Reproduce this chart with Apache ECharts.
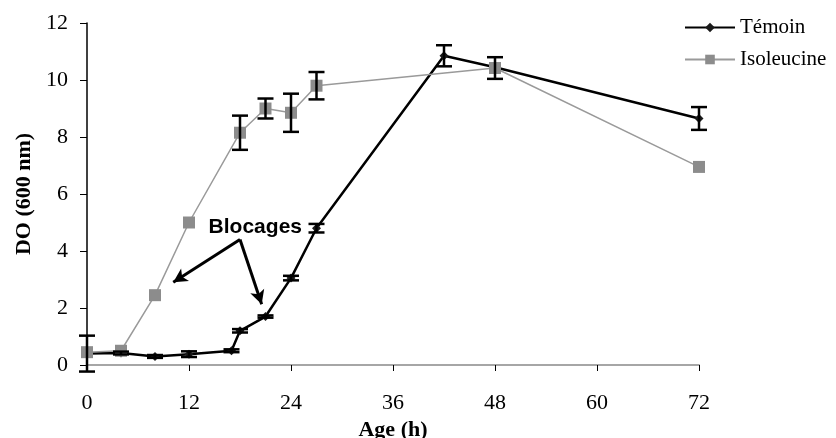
<!DOCTYPE html>
<html>
<head>
<meta charset="utf-8">
<script src="https://cdn.jsdelivr.net/npm/echarts@6/dist/echarts.min.js"></script>
<style>
  html, body { margin: 0; padding: 0; background: #fff; }
  #chart { width: 836px; height: 438px; }
</style>
</head>
<body>
<div id="chart"></div>
<script>
// Optical density at 600 nm over culture age, control vs isoleucine
const hoursTemoin = [0, 4, 8, 12, 17, 18, 21, 24, 27, 42, 48, 72];
const doTemoin    = [0.40, 0.42, 0.30, 0.38, 0.50, 1.20, 1.70, 3.05, 4.80, 10.85, 10.45, 8.65];
const errTemoin   = [0.63, 0.05, 0.05, 0.10, 0.05, 0.06, 0.04, 0.08, 0.15, 0.37, 0, 0.40];

const hoursIso = [0, 4, 8, 12, 18, 21, 24, 27, 48, 72];
const doIso    = [0.45, 0.50, 2.45, 5.00, 8.15, 9.00, 8.85, 9.80, 10.42, 6.95];
const errIso   = [0, 0, 0, 0, 0.60, 0.35, 0.67, 0.48, 0.38, 0];

const xTicks = [0, 12, 24, 36, 48, 60, 72];
const yTicks = [0, 2, 4, 6, 8, 10, 12];

const serif = '"Liberation Serif", "Times New Roman", serif';

function pairs(xs, ys) { return xs.map((x, i) => [x, ys[i]]); }

function errorBars(xs, ys, es) {
  const data = [];
  xs.forEach((x, i) => { if (es[i] > 0) data.push([x, ys[i] - es[i], ys[i] + es[i]]); });
  return {
    type: 'custom',
    silent: true,
    clip: false,
    z: 5,
    data: data,
    encode: { x: 0, y: [1, 2] },
    renderItem: function (params, api) {
      const lo = api.coord([api.value(0), api.value(1)]);
      const hi = api.coord([api.value(0), api.value(2)]);
      const w = 8;
      const style = { stroke: '#000', lineWidth: 2.5 };
      return {
        type: 'group',
        children: [
          { type: 'line', shape: { x1: lo[0], y1: lo[1], x2: hi[0], y2: hi[1] }, style: style },
          { type: 'line', shape: { x1: lo[0] - w, y1: lo[1], x2: lo[0] + w, y2: lo[1] }, style: style },
          { type: 'line', shape: { x1: hi[0] - w, y1: hi[1], x2: hi[0] + w, y2: hi[1] }, style: style }
        ]
      };
    }
  };
}

const chart = echarts.init(document.getElementById('chart'), null, { renderer: 'canvas' });

chart.setOption({
  animation: false,
  backgroundColor: '#fff',
  grid: { left: 87, right: 137, top: 23, bottom: 73, containLabel: false, outerBoundsMode: 'none' },
  legend: {
    orient: 'vertical',
    left: 679,
    top: 12,
    itemWidth: 50,
    itemHeight: 12,
    itemGap: 11,
    data: ['Témoin', 'Isoleucine'],
    textStyle: { fontFamily: serif, fontSize: 21, color: '#000' }
  },
  xAxis: {
    type: 'value',
    min: xTicks[0],
    max: xTicks[xTicks.length - 1],
    interval: 12,
    name: 'Age (h)',
    nameLocation: 'middle',
    nameGap: 54,
    nameTextStyle: { fontFamily: serif, fontSize: 22, fontWeight: 'bold', color: '#000' },
    axisLine: { show: true, lineStyle: { color: '#a6a6a6', width: 2 } },
    axisTick: { show: true, inside: false, length: 6, lineStyle: { color: '#000', width: 1 } },
    axisLabel: { margin: 27, fontFamily: serif, fontSize: 22, color: '#000' },
    splitLine: { show: false }
  },
  yAxis: {
    type: 'value',
    min: yTicks[0],
    max: yTicks[yTicks.length - 1],
    interval: 2,
    name: 'DO (600 nm)',
    nameLocation: 'middle',
    nameGap: 52,
    nameTextStyle: { fontFamily: serif, fontSize: 22, fontWeight: 'bold', color: '#000' },
    axisLine: { show: true, lineStyle: { color: '#000', width: 1.5 } },
    axisTick: { show: true, inside: false, length: 7, lineStyle: { color: '#000', width: 1 } },
    axisLabel: { margin: 19, fontFamily: serif, fontSize: 22, color: '#000' },
    splitLine: { show: false }
  },
  series: [
    {
      name: 'Témoin',
      type: 'line',
      data: pairs(hoursTemoin, doTemoin),
      symbol: 'diamond',
      symbolSize: 9,
      showAllSymbol: true,
      itemStyle: { color: '#1a1a1a' },
      lineStyle: { color: '#000', width: 2.5 },
      z: 2,
      markLine: {
        silent: true,
        symbol: ['none', 'arrow'],
        symbolSize: [11, 14],
        label: { show: false },
        lineStyle: { color: '#000', width: 3, type: 'solid' },
        data: [
          [{ coord: [18, 4.4] }, { coord: [10.15, 2.9] }],
          [{ coord: [18, 4.4] }, { coord: [20.55, 2.13] }]
        ]
      },
      markPoint: {
        silent: true,
        data: [{
          coord: [19.8, 4.82],
          symbol: 'circle',
          symbolSize: 0,
          label: {
            show: true,
            position: 'inside',
            formatter: 'Blocages',
            fontFamily: '"Liberation Sans", Arial, sans-serif',
            fontWeight: 'bold',
            fontSize: 21,
            color: '#000'
          }
        }]
      }
    },
    {
      name: 'Isoleucine',
      type: 'line',
      data: pairs(hoursIso, doIso),
      symbol: 'rect',
      symbolSize: 12,
      showAllSymbol: true,
      itemStyle: { color: '#8c8c8c' },
      lineStyle: { color: '#9a9a9a', width: 1.5 },
      z: 3
    },
    errorBars(hoursTemoin, doTemoin, errTemoin),
    errorBars(hoursIso, doIso, errIso)
  ]
});
</script>
</body>
</html>
